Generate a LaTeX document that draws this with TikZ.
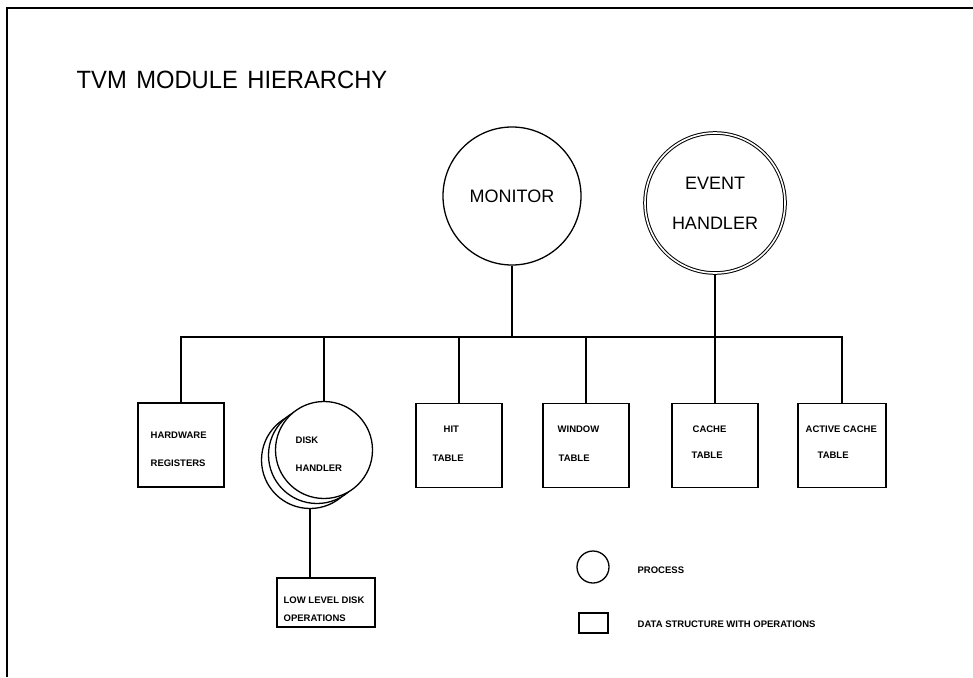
\documentclass[tikz,border=0pt]{standalone}
\usepackage{fontspec}
\setmainfont{Liberation Sans}
\begin{document}
\begin{tikzpicture}[x=1pt,y=-1pt,line width=1.3pt,
  box/.style={draw,rectangle,minimum width=86pt,minimum height=84pt,inner sep=0pt},
  proc/.style={draw,circle,inner sep=0pt,fill=white},
  lbl/.style={font=\fontsize{9.5}{10}\selectfont\bfseries,anchor=west,inner sep=0pt},
  big/.style={font=\fontsize{18}{40}\selectfont,align=center}]
\useasboundingbox (0,0) rectangle (973,677);
% frame
\draw[line width=2.5pt] (7,677) -- (7,8) -- (973,8);
% title
\node[anchor=base west,inner sep=0pt,font=\fontsize{25}{30}\selectfont] (title) at (76,88) {\scalebox{0.95}[1]{TVM\hspace{10pt}MODULE\hspace{10pt}HIERARCHY}};
% processes
\node[proc,minimum size=138pt,big] (mon) at (512,196) {MONITOR};
\node[proc,minimum size=140pt,big,double,double distance=1.6pt,line width=1pt] (ev) at (715,203) {EVENT\\HANDLER};
% disk handler stack
\node[proc,minimum size=97pt] (disk3) at (310,460) {};
\node[proc,minimum size=97pt] (disk2) at (317,455) {};
\node[proc,minimum size=97pt] (disk) at (324,450) {};
% data structures
\node[box] (hw) at (181,445) {};
\node[box] (hit) at (459,445.5) {};
\node[box] (win) at (586,445.5) {};
\node[box] (cache) at (715,445.5) {};
\node[box,minimum width=88pt] (act) at (842,445.5) {};
\node[box,minimum width=98pt,minimum height=49pt] (lldo) at (326,602.5) {};
% labels
\node[lbl] (hwa) at (150,435) {HARDWARE};
\node[lbl] (hwb) at (150,463) {REGISTERS};
\node[lbl] (dka) at (295,440) {DISK};
\node[lbl] (dkb) at (295,468) {HANDLER};
\node[lbl] (lla) at (283,600) {LOW LEVEL DISK};
\node[lbl] (llb) at (283,618) {OPERATIONS};
\node[lbl] (hita) at (443,429) {HIT};
\node[lbl] (hitb) at (432,458) {TABLE};
\node[lbl] (wina) at (557,429) {WINDOW};
\node[lbl] (winb) at (558,458) {TABLE};
\node[lbl] (caa) at (692,429) {CACHE};
\node[lbl] (cab) at (691,455) {TABLE};
\node[lbl] (aca) at (805,429) {ACTIVE CACHE};
\node[lbl] (acb) at (817,455) {TABLE};
% legend
\node[draw,circle,inner sep=0pt,minimum size=32pt] (lgc) at (593,567) {};
\node[draw,rectangle,inner sep=0pt,minimum width=29pt,minimum height=20pt] (lgr) at (593.5,623) {};
\node[lbl] (lgct) at (637,570) {PROCESS};
\node[lbl] (lgrt) at (637,624) {DATA STRUCTURE WITH OPERATIONS};
% connectors
\coordinate (bus) at (0,337);
\draw (hw.north) |- (act.north |- bus) -- (act.north);
\draw (mon.south) -- (mon.south |- bus);
\draw (ev.south) -- (cache.north);
\draw (disk.north) -- (disk.north |- bus);
\draw (hit.north) -- (hit.north |- bus);
\draw (win.north) -- (win.north |- bus);
\draw (disk3.south) -- (disk3.south |- lldo.north);
\end{tikzpicture}
\end{document}
